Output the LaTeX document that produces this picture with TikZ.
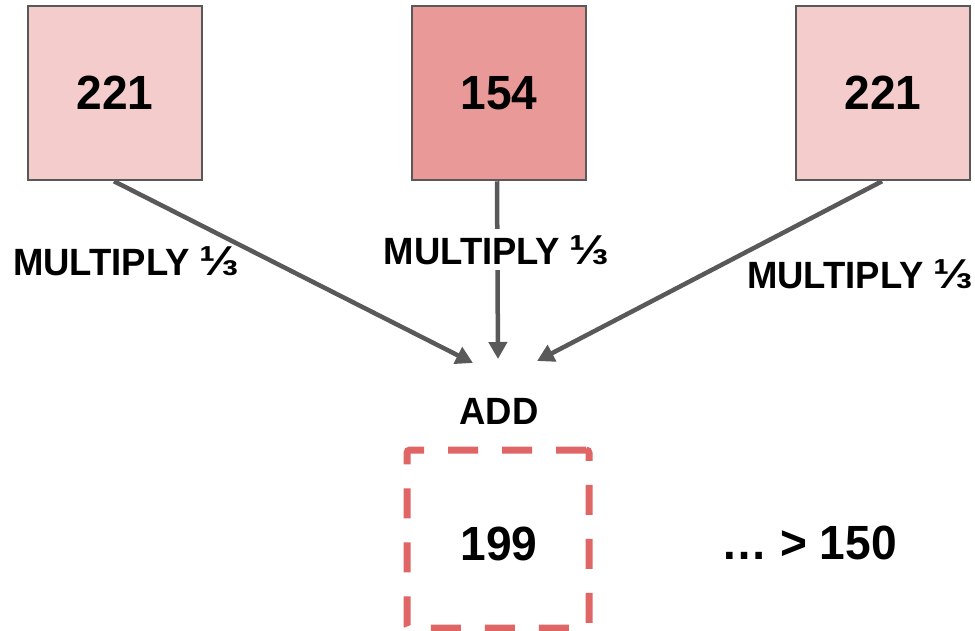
\documentclass[tikz,border=0pt]{standalone}
\usepackage{fontspec}
\setmainfont{Liberation Sans}
\newfontfamily\narrowbold{Liberation Sans Bold}[FakeStretch=0.96]
\usetikzlibrary{arrows.meta}

\definecolor{lightred}{HTML}{F4CCCC}
\definecolor{midred}{HTML}{EA9999}
\definecolor{dashred}{HTML}{E06666}
\definecolor{edgegray}{HTML}{595959}

% a one-third sign sized to the capitals of the labels
\newcommand{\onethird}{\scalebox{1.3}[1.1]{⅓}}

\tikzset{
  valbox/.style={draw=edgegray, line width=2.5pt, minimum width=174pt, minimum height=174pt,
    inner sep=0pt, font=\narrowbold\fontsize{48}{58}\selectfont},
  resbox/.style={draw=dashred, line width=7pt, dash pattern=on 30pt off 24pt, rounded corners=3pt,
    minimum width=182pt, minimum height=178pt, inner sep=0pt},
  bigtext/.style={inner sep=0pt, font=\narrowbold\fontsize{48}{58}\selectfont},
  optext/.style={inner sep=0pt, font=\narrowbold\fontsize{38}{46}\selectfont},
  flow/.style={draw=edgegray, line width=4.5pt, -{Triangle[length=17pt,width=18pt]}},
}

\begin{document}
\begin{tikzpicture}[x=1pt, y=-1pt]
  \useasboundingbox (0,0) rectangle (975,630);

  % the three input values
  \node[valbox, fill=lightred] (a) at (115,93) {221};
  \node[valbox, fill=midred]   (b) at (499,93) {154};
  \node[valbox, fill=lightred] (c) at (883,93) {221};

  % points where the arrows meet above ADD
  \coordinate (ta) at (473,363);
  \coordinate (tb) at (498,359);
  \coordinate (tc) at (537,361);

  \draw[flow] (a.south -| 114,0) -- (ta);
  \draw[flow] (b.south -| 497,0) -- (tb);
  \draw[flow] (c.south -| 882,0) -- (tc);

  % operation labels
  \node[optext, anchor=base west] (la) at (13,275) {MULTIPLY\hspace{0.25em}\onethird};
  \node[optext, anchor=base, fill=white, inner ysep=6pt] (lb) at (496.5,264) {MULTIPLY\hspace{0.25em}\onethird};
  \node[optext, anchor=base west] (lc) at (747,288) {MULTIPLY\hspace{0.25em}\onethird};
  \node[optext, anchor=base] (add) at (499,424) {ADD};

  % result
  \node[resbox] (res) at (498,539) {};
  \node[bigtext, anchor=base] (val) at (499,560) {199};
  \node[bigtext, anchor=base west] (cmp) at (721,559) {… > 150};
\end{tikzpicture}
\end{document}
